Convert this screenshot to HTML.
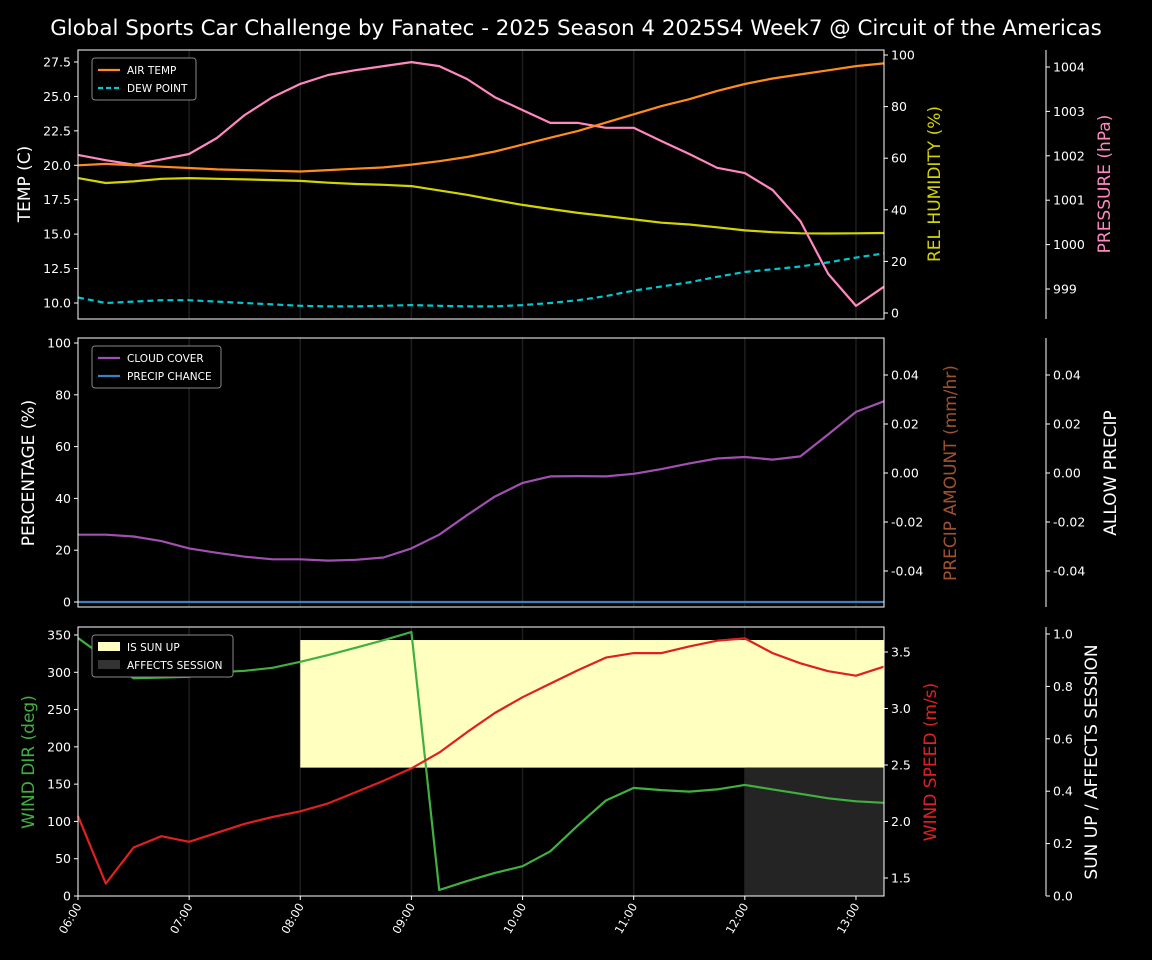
<!DOCTYPE html>
<html><head><meta charset="utf-8"><style>
html,body{margin:0;padding:0;background:#000;}
svg{display:block;font-family:"DejaVu Sans","Liberation Sans",sans-serif;}
</style></head><body>
<svg id="chart" width="1152" height="960" viewBox="0 0 1152 960" xmlns="http://www.w3.org/2000/svg">
<rect width="1152" height="960" fill="#000"/>
<text x="576" y="35" fill="#fff" font-size="21.4" text-anchor="middle">Global Sports Car Challenge by Fanatec - 2025 Season 4 2025S4 Week7 @ Circuit of the Americas</text>
</svg>
<script>
const timeLabels=["06:00","07:00","08:00","09:00","10:00","11:00","12:00","13:00"];
const airTemp=[20.0,20.1,20.0,19.9,19.8,19.7,19.65,19.6,19.55,19.65,19.75,19.85,20.05,20.3,20.6,21.0,21.5,22.0,22.5,23.1,23.7,24.3,24.8,25.4,25.9,26.3,26.6,26.9,27.2,27.4];
const dewPoint=[10.4,10.0,10.1,10.2,10.2,10.1,10.0,9.9,9.8,9.75,9.75,9.8,9.85,9.8,9.75,9.75,9.85,10.0,10.2,10.5,10.9,11.2,11.5,11.9,12.25,12.45,12.65,12.95,13.3,13.6];
const humidity=[52.3,50.4,51,52,52.3,52,51.8,51.5,51.2,50.5,50,49.7,49.2,47.5,45.8,43.8,41.9,40.3,38.8,37.6,36.3,35,34.3,33.2,32,31.3,30.9,30.8,30.9,31];
const pressure=[1002.02,1001.9,1001.8,1001.92,1002.04,1002.4,1002.92,1003.32,1003.62,1003.82,1003.93,1004.02,1004.11,1004.02,1003.73,1003.32,1003.03,1002.74,1002.74,1002.63,1002.63,1002.33,1002.04,1001.73,1001.61,1001.23,1000.53,999.34,998.62,999.05];
const cloudCover=[26,26,25.3,23.5,20.7,19,17.5,16.5,16.5,16,16.3,17.2,20.7,26,33.5,40.7,46,48.5,48.6,48.5,49.5,51.3,53.5,55.4,56,55,56.2,64.7,73.4,77.5];
const precipChance=[0,0,0,0,0,0,0,0,0,0,0,0,0,0,0,0,0,0,0,0,0,0,0,0,0,0,0,0,0,0];
const windDir=[346,319,292,293,294,300,302,306,314,323,333,343,354,8,20,31,40,60,95,128,145,142,140,143,149,143,137,131,127,125];
const windSpeed=[2.05,1.45,1.77,1.87,1.82,1.9,1.98,2.04,2.09,2.16,2.26,2.36,2.47,2.61,2.79,2.96,3.10,3.22,3.34,3.45,3.49,3.49,3.55,3.60,3.62,3.49,3.40,3.33,3.29,3.37];
const sunUpRange=[8.0,13.25,0.49,0.977];
const affectsRange=[12.0,13.25,0,0.49];
const tempTicks=[10.0,12.5,15.0,17.5,20.0,22.5,25.0,27.5];
const humTicks=[0,20,40,60,80,100];
const presTicks=[999,1000,1001,1002,1003,1004];
const pctTicks=[0,20,40,60,80,100];
const precipTicks=[-0.04,-0.02,0.00,0.02,0.04];
const dirTicks=[0,50,100,150,200,250,300,350];
const speedTicks=[1.5,2.0,2.5,3.0,3.5];
const sunTicks=[0.0,0.2,0.4,0.6,0.8,1.0];

const NS="http://www.w3.org/2000/svg";
const svg=document.getElementById("chart");
const X0=78,X1=884,H0=6,HOUR=111.14;
function xh(h){return X0+(h-H0)*HOUR;}
function xi(i){return xh(H0+i*0.25);}
function lin(v0,y0,v1,y1){return v=>y0+(v-v0)*(y1-y0)/(v1-v0);}
function el(tag,attrs,parent){const e=document.createElementNS(NS,tag);for(const k in attrs)e.setAttribute(k,attrs[k]);(parent||svg).appendChild(e);return e;}
function txt(s,attrs,parent){const e=el("text",attrs,parent);e.textContent=s;return e;}

const panels=[{top:50,bot:319},{top:338,bot:607},{top:627,bot:896}];
const yTemp=lin(27.5,62,10.0,303), yHum=lin(100,55,0,313), yPres=lin(1004,67,999,289);
const yPct=lin(100,343,0,602), yPrecip=lin(0.04,375,-0.04,571);
const yDir=lin(350,635,0,896), ySpd=lin(3.5,652,1.5,878), ySun=lin(1,634,0,896);

function line(arr,yf,color,name,dash){
  const d=arr.map((v,i)=>(i?"L":"M")+xi(i).toFixed(1)+","+yf(v).toFixed(1)).join(" ");
  const p=el("path",{d:d,fill:"none",stroke:color,"stroke-width":2.2,"stroke-linejoin":"round"});
  if(dash)p.setAttribute("stroke-dasharray",dash);
  
  
}
function leftTicks(ticks,yf,fmt,name){
  const g=el("g",{});
  
  
  ticks.forEach(t=>{const y=yf(t);el("line",{x1:X0-4,x2:X0,y1:y,y2:y,stroke:"#fff"},g);
    txt(fmt(t),{x:X0-7,y:y+4.5,fill:"#fff","font-size":12.5,"text-anchor":"end"},g);});
}
function rightTicks(ticks,yf,fmt,x,name){
  const g=el("g",{});
  
  
  ticks.forEach(t=>{const y=yf(t);el("line",{x1:x,x2:x+4,y1:y,y2:y,stroke:"#fff"},g);
    txt(fmt(t),{x:x+7,y:y+4.5,fill:"#fff","font-size":12.5},g);});
}
function vlabel(s,x,y,color,name){
  const t=txt(s,{x:x,y:y,fill:color,"font-size":17,"text-anchor":"middle",transform:`rotate(-90 ${x} ${y})`});
  
  
}
function grid(p){for(let h=7;h<=13;h++){el("line",{x1:xh(h),x2:xh(h),y1:p.top,y2:p.bot,stroke:"#333","stroke-width":1.5,opacity:0.6});}}
function frame(p,name){const r=el("rect",{x:X0,y:p.top,width:X1-X0,height:p.bot-p.top,fill:"none",stroke:"#fff","stroke-width":1});
  
  el("line",{x1:1046,x2:1046,y1:p.top,y2:p.bot,stroke:"#fff"});}
function legend(p,items,w,name){
  const g=el("g",{});
  
  
  el("rect",{x:92,y:p.top+8,width:w,height:items.length*18+6,rx:3,fill:"#000",stroke:"#888"},g);
  items.forEach((it,i)=>{const y=p.top+20+i*18;
    if(it.box){el("rect",{x:98,y:y-5,width:22,height:9,fill:it.color},g);}
    else{const l=el("line",{x1:98,x2:120,y1:y,y2:y,stroke:it.color,"stroke-width":2.2},g);if(it.dash)l.setAttribute("stroke-dasharray",it.dash);}
    txt(it.label,{x:127,y:y+4,fill:"#fff","font-size":10.5},g);});
}

// Panel 1
grid(panels[0]);
line(humidity,yHum,"#d4d400","humidity-line");
line(pressure,yPres,"#ff88c0","pressure-line");
line(airTemp,yTemp,"#ff8c1a","air-temp-line");
line(dewPoint,yTemp,"#00c8d0","dew-point-line","6,4");
frame(panels[0],"temp-panel");
leftTicks(tempTicks,yTemp,v=>v.toFixed(1),"temp-axis-ticks");
rightTicks(humTicks,yHum,v=>String(v),X1,"humidity-axis-ticks");
rightTicks(presTicks,yPres,v=>String(v),1046,"pressure-axis-ticks");
vlabel("TEMP (C)",30,184,"#fff","temp-axis-title");
vlabel("REL HUMIDITY (%)",940,184,"#d4d400","humidity-axis-title");
vlabel("PRESSURE (hPa)",1110,184,"#ff88c0","pressure-axis-title");
legend(panels[0],[{label:"AIR TEMP",color:"#ff8c1a"},{label:"DEW POINT",color:"#00c8d0",dash:"5,3"}],104,"temp-legend");

// Panel 2
grid(panels[1]);
line(cloudCover,yPct,"#a050b0","cloud-cover-line");
line(precipChance,yPct,"#3a80c0","precip-chance-line");
frame(panels[1],"precip-panel");
leftTicks(pctTicks,yPct,v=>String(v),"percentage-axis-ticks");
rightTicks(precipTicks,yPrecip,v=>v.toFixed(2),X1,"precip-amount-ticks");
rightTicks(precipTicks,yPrecip,v=>v.toFixed(2),1046,"allow-precip-ticks");
vlabel("PERCENTAGE (%)",34,473,"#fff","percentage-axis-title");
vlabel("PRECIP AMOUNT (mm/hr)",956,473,"#a0522d","precip-amount-title");
vlabel("ALLOW PRECIP",1116,473,"#fff","allow-precip-title");
legend(panels[1],[{label:"CLOUD COVER",color:"#a050b0"},{label:"PRECIP CHANCE",color:"#3a80c0"}],129,"precip-legend");

// Panel 3
grid(panels[2]);
const su=el("rect",{x:xh(sunUpRange[0]),y:ySun(sunUpRange[3]),width:xh(sunUpRange[1])-xh(sunUpRange[0]),height:ySun(sunUpRange[2])-ySun(sunUpRange[3]),fill:"#ffffc0"});

const af=el("rect",{x:xh(affectsRange[0]),y:ySun(affectsRange[3]),width:xh(affectsRange[1])-xh(affectsRange[0]),height:ySun(affectsRange[2])-ySun(affectsRange[3]),fill:"#242424"});

line(windDir,yDir,"#40b040","wind-dir-line");
line(windSpeed,ySpd,"#e02020","wind-speed-line");
frame(panels[2],"wind-panel");
leftTicks(dirTicks,yDir,v=>String(v),"wind-dir-ticks");
rightTicks(speedTicks,ySpd,v=>v.toFixed(1),X1,"wind-speed-ticks");
rightTicks(sunTicks,ySun,v=>v.toFixed(1),1046,"sun-up-ticks");
vlabel("WIND DIR (deg)",34,762,"#40b040","wind-dir-title");
vlabel("WIND SPEED (m/s)",936,762,"#e02020","wind-speed-title");
vlabel("SUN UP / AFFECTS SESSION",1097,762,"#fff","sun-up-title");
legend(panels[2],[{label:"IS SUN UP",color:"#ffffc0",box:true},{label:"AFFECTS SESSION",color:"#333",box:true}],141,"wind-legend");

// x axis
const gx=el("g",{});


timeLabels.forEach((s,i)=>{const x=xh(H0+i);
  el("line",{x1:x,x2:x,y1:896,y2:900,stroke:"#fff"},gx);
  txt(s,{x:x+4,y:906,fill:"#fff","font-size":11.5,"text-anchor":"end",transform:`rotate(-60 ${x+4} 906)`},gx);});
</script>
</body></html>
